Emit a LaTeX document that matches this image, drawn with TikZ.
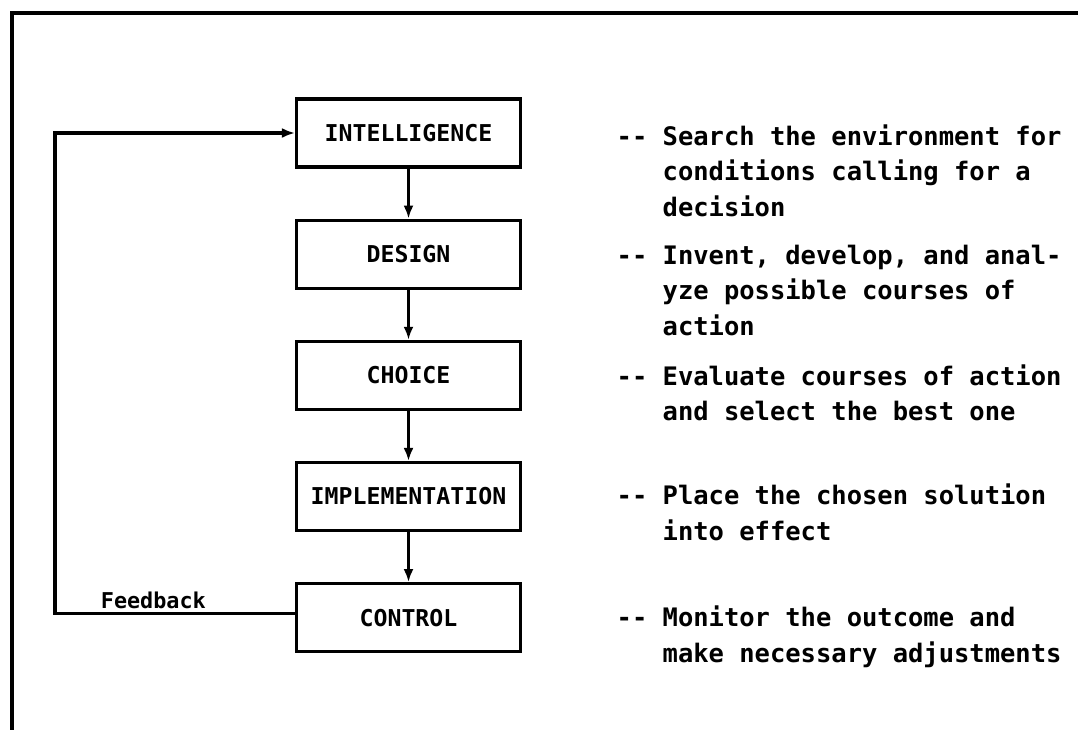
\documentclass[tikz,border=0pt]{standalone}
\usepackage{fontspec}
\newfontfamily\dotfont{DejaVu Sans Mono}[Ligatures=NoCommon]
\usetikzlibrary{shapes, arrows.meta, positioning}

\begin{document}
\begin{tikzpicture}[node distance=1.0cm, >={Latex[length=0.26cm, width=0.2cm]}, line width=1.8pt,
  phase/.style={draw, rectangle, line width=1.8pt, minimum width=4.48cm, minimum height=1.36cm, inner sep=0pt, font=\dotfont\bfseries\fontsize{13.2}{16}\selectfont},
  desc/.style={anchor=north west, align=left, inner sep=0pt, font=\dotfont\bfseries\fontsize{14.5}{20.3}\selectfont}]
  \useasboundingbox (0,0) rectangle (21.56,-14.6);
  % Rahmen (oben und links)
  \draw[line width=2.2pt] (21.56,-0.26) -- (0.24,-0.26) -- (0.24,-14.6);

  % Phasen des Entscheidungsprozesses
  \node[phase] (intel) at (8.17,-2.66) {INTELLIGENCE};
  \node[phase, below=of intel] (design) {DESIGN};
  \node[phase, below=of design] (choice) {CHOICE};
  \node[phase, below=of choice] (impl) {IMPLEMENTATION};
  \node[phase, below=of impl] (control) {CONTROL};

  % Beschreibungen rechts
  \node[desc] (dintel) at ([xshift=1.86cm, yshift=0.2cm] intel.east) {-{}- Search the environment for\\\hphantom{-{}- }conditions calling for a\\\hphantom{-{}- }decision};
  \node[desc] (ddesign) at ([xshift=1.86cm, yshift=0.22cm] design.east) {-{}- Invent, develop, and anal-\\\hphantom{-{}- }yze possible courses of\\\hphantom{-{}- }action};
  \node[desc] (dchoice) at ([xshift=1.86cm, yshift=0.25cm] choice.east) {-{}- Evaluate courses of action\\\hphantom{-{}- }and select the best one};
  \node[desc] (dimpl) at ([xshift=1.86cm, yshift=0.28cm] impl.east) {-{}- Place the chosen solution\\\hphantom{-{}- }into effect};
  \node[desc] (dcontrol) at ([xshift=1.86cm, yshift=0.27cm] control.east) {-{}- Monitor the outcome and\\\hphantom{-{}- }make necessary adjustments};

  % Verbindungen
  \draw[->] (intel) -- (design);
  \draw[->] (design) -- (choice);
  \draw[->] (choice) -- (impl);
  \draw[->] (impl) -- (control);

  % Rueckkopplung
  \coordinate (fbstart) at ([yshift=0.08cm] control.west);
  \coordinate (fb) at (1.1,0);
  \draw[->] (fbstart) -- node[above, pos=0.59, inner sep=2pt, font=\dotfont\bfseries\fontsize{12.4}{14}\selectfont]{Feedback} (fb |- fbstart) |- (intel.west);
\end{tikzpicture}
\end{document}
